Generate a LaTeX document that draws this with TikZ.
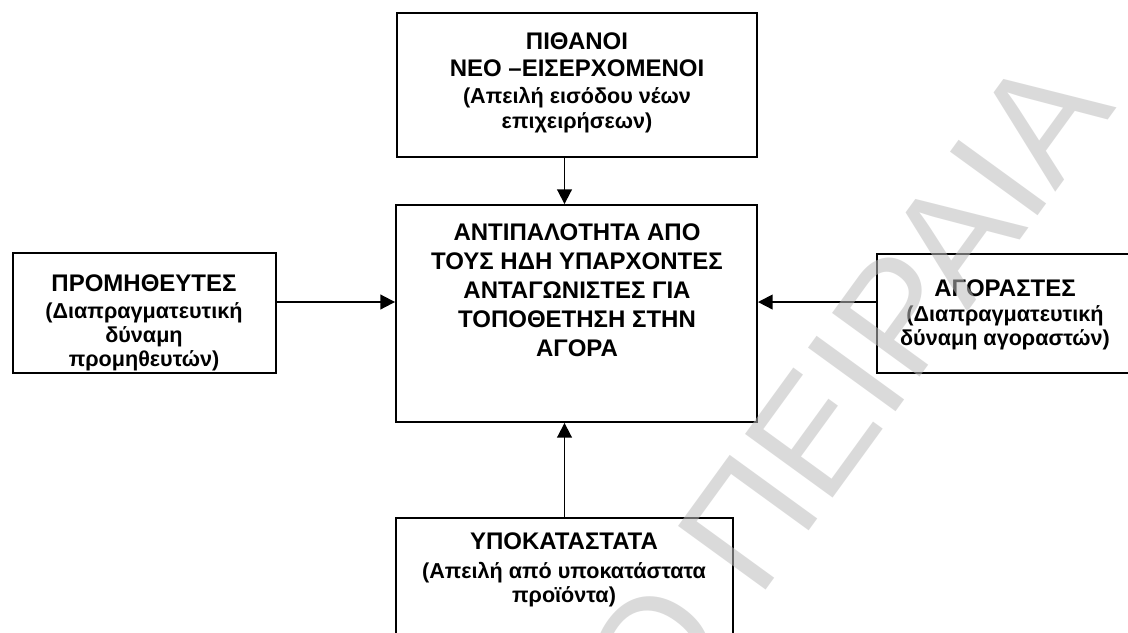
\documentclass[tikz,border=0pt]{standalone}
\usepackage{fontspec}
\setmainfont{Liberation Sans}
\usetikzlibrary{arrows.meta}
\newcommand{\ttlfont}{\fontsize{18}{20.25}\selectfont\bfseries}
\newcommand{\subtxt}{\fontsize{16.2}{17}\selectfont\bfseries}

\begin{document}
\begin{tikzpicture}[x=0.75pt,y=-0.75pt,
    box/.style={draw, line width=1.4pt, inner sep=0pt},
    txt/.style={align=center, inner sep=0pt, anchor=north, font=\ttlfont},
    arr/.style={line width=1.4pt, -{Triangle[width=11pt,length=11pt]}}]
    \clip (0,0) rectangle (1128,632);
    \fill[white] (0,0) rectangle (1128,632);
    % boxes
    \node[box, minimum width=270pt, minimum height=108pt] (entrants) at (577,85) {};
    \node[box, minimum width=270.75pt, minimum height=162.75pt] (rivalry) at (576.5,313.5) {};
    \node[box, minimum width=197.25pt, minimum height=90pt] (suppliers) at (144.5,313) {};
    \node[box, minimum width=199.5pt, minimum height=89.25pt] (buyers) at (1010,313.5) {};
    \node[box, minimum width=252.75pt, minimum height=106.5pt] (substitutes) at (564.5,589) {};
    % texts
    \node[txt] (entrantsTxt) at (577,32) {ΠΙΘΑΝΟΙ\\ΝΕΟ –ΕΙΣΕΡΧΟΜΕΝΟΙ\\\subtxt (Απειλή εισόδου νέων\\[-1.25pt]\subtxt επιχειρήσεων)};
    \node[txt] (rivalryTxt) at (577,223) {ΑΝΤΙΠΑΛΟΤΗΤΑ ΑΠΟ\\[1.5pt]ΤΟΥΣ ΗΔΗ ΥΠΑΡΧΟΝΤΕΣ\\[1.5pt]ΑΝΤΑΓΩΝΙΣΤΕΣ ΓΙΑ\\[1.5pt]ΤΟΠΟΘΕΤΗΣΗ ΣΤΗΝ\\[1.5pt]ΑΓΟΡΑ};
    \node[txt] (suppliersTxt) at (144,274) {ΠΡΟΜΗΘΕΥΤΕΣ\\\subtxt (Διαπραγματευτική\\[-2pt]\subtxt δύναμη\\[-2pt]\subtxt προμηθευτών)};
    \node[txt] (buyersTxt) at (1005,279) {ΑΓΟΡΑΣΤΕΣ\\[-1.5pt]\subtxt (Διαπραγματευτική\\[-2pt]\subtxt δύναμη αγοραστών)};
    \node[txt] (substitutesTxt) at (564,532) {ΥΠΟΚΑΤΑΣΤΑΤΑ\\[1.5pt]\subtxt (Απειλή από υποκατάστατα\\[-2pt]\subtxt προϊόντα)};
    % forces
    \draw[arr] (entrants.south -| substitutes.north) -- (rivalry.north -| substitutes.north);
    \draw[arr] (substitutes.north) -- (rivalry.south -| substitutes.north);
    \draw[arr] ([yshift=8.25pt]suppliers.east) -- ([yshift=8.25pt]suppliers.east -| rivalry.west);
    \draw[arr] ([yshift=8.6pt]buyers.west) -- ([yshift=8.6pt]buyers.west -| rivalry.east);
    % watermark
    \node[anchor=base east, rotate=54, inner sep=0pt, font=\fontsize{118}{120}\selectfont,
        text=black!26, text opacity=0.55] (watermark) at (1117,107) {ΠΑΝΕΠΙΣΤΗΜΙΟ ΠΕΙΡΑΙΑ};
\end{tikzpicture}
\end{document}
